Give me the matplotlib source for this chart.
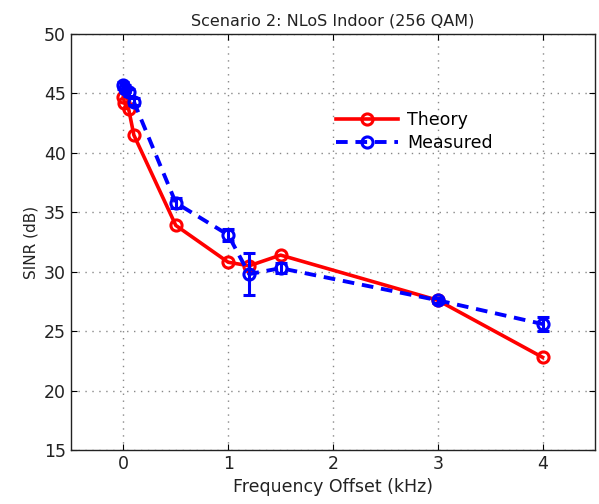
import matplotlib
matplotlib.use("Agg")
import matplotlib.pyplot as plt

plt.rcParams["font.family"] = ["DejaVu Sans"]

# 数据
theory_x = [0, 0.01, 0.05, 0.1, 0.5, 1.0, 1.2, 1.5, 3.0, 4.0]
theory_y = [44.7, 44.2, 43.7, 41.5, 33.9, 30.8, 30.5, 31.4, 27.6, 22.8]

meas_x = [0, 0.02, 0.05, 0.1, 0.5, 1.0, 1.2, 1.5, 3.0, 4.0]
meas_y = [45.7, 45.4, 45.1, 44.3, 35.8, 33.1, 29.8, 30.3, 27.6, 25.6]
meas_err = [0.3, 0.3, 0.3, 0.3, 0.4, 0.5, 1.75, 0.4, 0.2, 0.6]

xticks = [0, 1, 2, 3, 4]
yticks = [15, 20, 25, 30, 35, 40, 45, 50]

fig = plt.figure(figsize=(5.99, 5.04), dpi=100)
ax = fig.add_axes([0.1185, 0.1071, 0.8748, 0.8254])

ax.plot(theory_x, theory_y, "-o", color="#ff0000", lw=2.6, ms=8,
        mfc="none", mew=2.2, label="Theory", zorder=3)
ax.errorbar(meas_x, meas_y, yerr=meas_err, fmt="none", ecolor="#0000ff",
            elinewidth=2.2, capsize=4, capthick=2.2, zorder=4)
ax.plot(meas_x, meas_y, "--o", color="#0000ff", lw=2.8, ms=8,
        mfc="none", mew=2.2, dashes=(3, 2), label="Measured", zorder=4)

ax.set_xlim(-0.5, 4.5)
ax.set_ylim(15, 50)
ax.set_xticks(xticks)
ax.set_yticks(yticks)
ax.tick_params(direction="in", top=True, right=True, labelsize=12.5,
               length=4, labelcolor="#222222")
ax.grid(True, linestyle=(0, (1, 4)), color="#888888", linewidth=1.0)
for s in ax.spines.values():
    s.set_linewidth(1.0)
    s.set_color("#222222")

ax.set_xlabel("Frequency Offset (kHz)", fontsize=12.5, labelpad=4, color="#222222")
ax.set_ylabel("SINR (dB)", fontsize=11, color="#222222")
ax.set_title("Scenario 2: NLoS Indoor (256 QAM)", fontsize=11.5, pad=6, color="#222222")

ax.legend(loc="center left", bbox_to_anchor=(0.505, 0.766), frameon=False,
          fontsize=12.5, handlelength=3.6, handletextpad=0.5,
          borderpad=0, borderaxespad=0, labelspacing=0.3)

fig.savefig("out.png", dpi=100)
